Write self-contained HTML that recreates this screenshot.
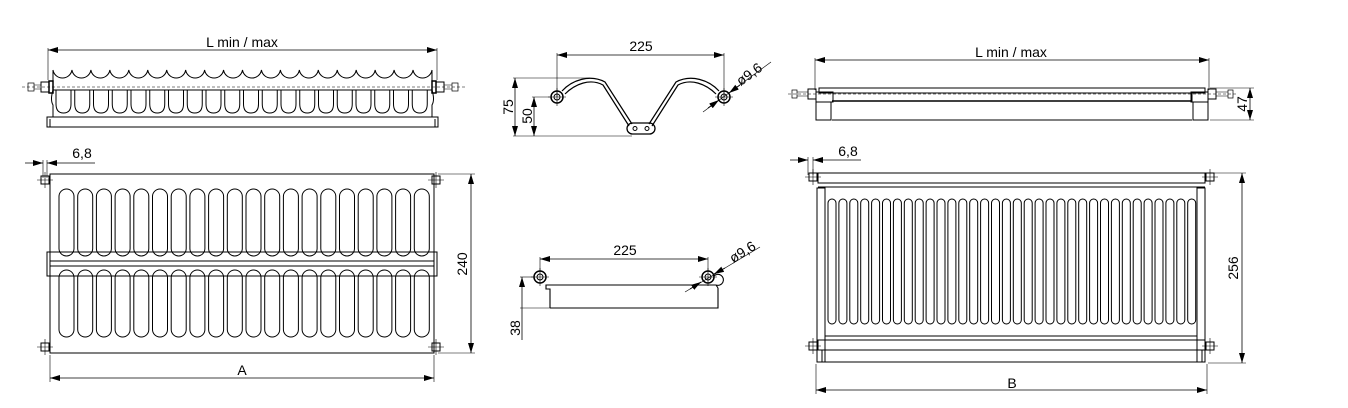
<!DOCTYPE html>
<html><head><meta charset="utf-8"><style>
html,body{margin:0;padding:0;background:#fff;}
svg{display:block}
text{font-family:"Liberation Sans",sans-serif;font-size:14px;fill:#000}
</style></head><body>
<svg id="s" width="1348" height="408" viewBox="0 0 1348 408" xmlns="http://www.w3.org/2000/svg">
<defs>
<marker id="a" viewBox="0 0 10 6" refX="10" refY="3" markerWidth="10" markerHeight="6" orient="auto-start-reverse" markerUnits="userSpaceOnUse"><path d="M0,0L10,3L0,6z" fill="#000"/></marker>
</defs>
<g id="g" fill="none" stroke="#000" stroke-width="1">
<!-- LEFT TOP -->
<line x1="48" y1="50" x2="437" y2="50" marker-start="url(#a)" marker-end="url(#a)" stroke-width="0.8"/>
<line x1="48" y1="48" x2="48" y2="80" stroke-width="0.6"/>
<line x1="437" y1="48" x2="437" y2="80" stroke-width="0.6"/>
<line x1="53" y1="90" x2="432" y2="90"/>
<path d="M53,70 L53,90 Q50,100 53,105 L53,117 M432,70 L432,90 Q435,100 432,105 L432,117"/>
<rect x="47" y="117" width="391" height="10"/>
<line x1="50" y1="119" x2="50" y2="127"/><line x1="435" y1="119" x2="435" y2="127"/>
<line x1="22" y1="87" x2="466" y2="87" stroke-width="0.5" stroke-dasharray="3,2"/>
<!-- LEFT BOTTOM -->
<rect x="50" y="174" width="384" height="179"/>
<rect x="47" y="252" width="390" height="24"/>
<line x1="50" y1="261" x2="434" y2="261"/><line x1="50" y1="266" x2="434" y2="266"/>
<line x1="471" y1="174" x2="471" y2="353" marker-start="url(#a)" marker-end="url(#a)" stroke-width="0.8"/>
<line x1="438" y1="174" x2="475" y2="174" stroke-width="0.6"/><line x1="438" y1="353" x2="475" y2="353" stroke-width="0.6"/>
<line x1="50" y1="378" x2="434" y2="378" marker-start="url(#a)" marker-end="url(#a)" stroke-width="0.8"/>
<line x1="50" y1="355" x2="50" y2="382" stroke-width="0.6"/><line x1="434" y1="355" x2="434" y2="382" stroke-width="0.6"/>
<line x1="25" y1="163" x2="43" y2="163" marker-end="url(#a)" stroke-width="0.8"/>
<line x1="95" y1="163" x2="47" y2="163" marker-end="url(#a)" stroke-width="0.8"/>
<line x1="43" y1="160" x2="43" y2="178" stroke-width="0.6"/><line x1="47" y1="160" x2="47" y2="178" stroke-width="0.6"/>
<!-- MIDDLE TOP -->
<line x1="557" y1="55" x2="724" y2="55" marker-start="url(#a)" marker-end="url(#a)" stroke-width="0.8"/>
<line x1="557" y1="53" x2="557" y2="97" stroke-width="0.6"/><line x1="724" y1="53" x2="724" y2="97" stroke-width="0.6"/>
<path d="M562,91 C572,80 590,74 605,82 L632,124 M565,94 C575,84 590,78 603,85 L629,126" stroke-width="1.2"/>
<path d="M719,91 C709,80 691,74 676,82 L649,124 M716,94 C706,84 691,78 678,85 L652,126" stroke-width="1.2"/>
<rect x="627" y="123" width="28" height="11" rx="5.5" stroke-width="1.3"/>
<circle cx="635" cy="128.5" r="2"/><circle cx="647" cy="128.5" r="2"/>
<circle cx="557" cy="97" r="6" stroke-width="1.5"/><circle cx="557" cy="97" r="3"/>
<circle cx="724" cy="97" r="6" stroke-width="1.5"/><circle cx="724" cy="97" r="3"/>
<path d="M548,97h18M557,88v18M715,97h18M724,88v18" stroke-width="0.6"/>
<line x1="515" y1="78" x2="515" y2="136" marker-start="url(#a)" marker-end="url(#a)" stroke-width="0.8"/>
<line x1="534" y1="97" x2="534" y2="136" marker-start="url(#a)" marker-end="url(#a)" stroke-width="0.8"/>
<line x1="513" y1="78" x2="590" y2="78" stroke-width="0.6"/>
<line x1="532" y1="97" x2="550" y2="97" stroke-width="0.6"/>
<line x1="513" y1="136" x2="632" y2="136" stroke-width="0.6"/>
<line x1="703" y1="112" x2="771" y2="62" stroke-width="0.6"/>
<line x1="708" y1="108" x2="719" y2="100" marker-end="url(#a)" stroke-width="0.8"/>
<line x1="740" y1="85" x2="729" y2="93" marker-end="url(#a)" stroke-width="0.8"/>
<!-- MIDDLE BOTTOM -->
<line x1="540" y1="259" x2="708" y2="259" marker-start="url(#a)" marker-end="url(#a)" stroke-width="0.8"/>
<line x1="540" y1="257" x2="540" y2="277" stroke-width="0.6"/><line x1="708" y1="257" x2="708" y2="277" stroke-width="0.6"/>
<path d="M550,308 L550,289 L546,289 L546,285 L716,285" stroke-width="1.1"/>
<path d="M718,288 L718,308 L550,308" stroke-width="1.1"/>
<path d="M716,285 A5.5,5.5 0 1 0 714,276" stroke-width="1.1"/>
<path d="M716,285 L718,288" stroke-width="1.1"/>
<circle cx="540" cy="277" r="6" stroke-width="1.5" fill="#fff"/><circle cx="540" cy="277" r="3"/>
<circle cx="708" cy="277" r="6" stroke-width="1.5" fill="#fff"/><circle cx="708" cy="277" r="3"/>
<path d="M531,277h18M540,268v18M699,277h18M708,268v18" stroke-width="0.6"/>
<line x1="522" y1="277" x2="522" y2="308" marker-start="url(#a)" stroke-width="0.8"/>
<line x1="522" y1="308" x2="522" y2="340" stroke-width="0.8"/>
<line x1="520" y1="277" x2="534" y2="277" stroke-width="0.6"/>
<line x1="520" y1="308" x2="550" y2="308" stroke-width="0.6"/>
<line x1="685" y1="292" x2="760" y2="247" stroke-width="0.6"/>
<line x1="690" y1="289" x2="701" y2="282" marker-end="url(#a)" stroke-width="0.8"/>
<line x1="725" y1="268" x2="714" y2="274" marker-end="url(#a)" stroke-width="0.8"/>
<!-- RIGHT TOP -->
<line x1="815" y1="60" x2="1209" y2="60" marker-start="url(#a)" marker-end="url(#a)" stroke-width="0.8"/>
<line x1="815" y1="58" x2="815" y2="90" stroke-width="0.6"/><line x1="1209" y1="58" x2="1209" y2="90" stroke-width="0.6"/>
<rect x="819" y="88" width="386" height="5"/>
<rect x="833" y="93" width="359" height="8"/>
<line x1="832" y1="101" x2="1192" y2="101" stroke-width="1.5"/>
<line x1="832" y1="120" x2="1192" y2="120"/>
<rect x="816" y="92" width="17" height="10"/><rect x="816" y="102" width="15" height="18"/>
<rect x="1191" y="92" width="17" height="10"/><rect x="1193" y="102" width="15" height="18"/>
<line x1="788" y1="94" x2="1238" y2="94" stroke-width="0.5" stroke-dasharray="3,2"/>
<line x1="1250" y1="88" x2="1250" y2="120" marker-start="url(#a)" marker-end="url(#a)" stroke-width="0.8"/>
<line x1="1210" y1="88" x2="1254" y2="88" stroke-width="0.6"/><line x1="1210" y1="120" x2="1254" y2="120" stroke-width="0.6"/>
<!-- RIGHT BOTTOM -->
<rect x="818" y="173" width="387" height="10"/>
<line x1="818" y1="187" x2="1205" y2="187"/>
<rect x="817" y="188" width="8" height="174"/><rect x="1197" y="188" width="8" height="174"/>
<line x1="825" y1="336" x2="1197" y2="336"/>
<rect x="818" y="340" width="387" height="10"/>
<rect x="822" y="350" width="380" height="12"/>
<line x1="1242" y1="173" x2="1242" y2="363" marker-start="url(#a)" marker-end="url(#a)" stroke-width="0.8"/>
<line x1="1208" y1="173" x2="1246" y2="173" stroke-width="0.6"/><line x1="1208" y1="363" x2="1246" y2="363" stroke-width="0.6"/>
<line x1="816" y1="390" x2="1207" y2="390" marker-start="url(#a)" marker-end="url(#a)" stroke-width="0.8"/>
<line x1="816" y1="364" x2="816" y2="394" stroke-width="0.6"/><line x1="1207" y1="364" x2="1207" y2="394" stroke-width="0.6"/>
<line x1="790" y1="160" x2="808" y2="160" marker-end="url(#a)" stroke-width="0.8"/>
<line x1="861" y1="160" x2="813" y2="160" marker-end="url(#a)" stroke-width="0.8"/>
<line x1="808" y1="157" x2="808" y2="175" stroke-width="0.6"/><line x1="813" y1="157" x2="813" y2="175" stroke-width="0.6"/>
</g>
<text x="242" y="47" text-anchor="middle">L min / max</text>
<text x="82" y="158" text-anchor="middle">6,8</text>
<text x="242" y="375" text-anchor="middle">A</text>
<text transform="translate(467,264) rotate(-90)" text-anchor="middle">240</text>
<text x="641" y="51" text-anchor="middle">225</text>
<text transform="translate(513,107) rotate(-90)" text-anchor="middle">75</text>
<text transform="translate(532,116) rotate(-90)" text-anchor="middle">50</text>
<text transform="translate(752,78) rotate(-36)" text-anchor="middle">ø9,6</text>
<text x="625" y="255" text-anchor="middle">225</text>
<text transform="translate(520,328) rotate(-90)" text-anchor="middle">38</text>
<text transform="translate(745,256) rotate(-32)" text-anchor="middle">ø9,6</text>
<text x="1011" y="57" text-anchor="middle">L min / max</text>
<text transform="translate(1247,104) rotate(-90)" text-anchor="middle">47</text>
<text x="848" y="156" text-anchor="middle">6,8</text>
<text transform="translate(1238,268) rotate(-90)" text-anchor="middle">256</text>
<text x="1012" y="388" text-anchor="middle">B</text>
</svg>
<script>
var g=document.getElementById('g'),ns='http://www.w3.org/2000/svg';
function p(d,w){var e=document.createElementNS(ns,'path');e.setAttribute('d',d);if(w)e.setAttribute('stroke-width',w);g.appendChild(e);}
function r(x,y,w,h,rx,sw){var e=document.createElementNS(ns,'rect');e.setAttribute('x',x);e.setAttribute('y',y);e.setAttribute('width',w);e.setAttribute('height',h);e.setAttribute('rx',rx);if(sw)e.setAttribute('stroke-width',sw);g.appendChild(e);}
var d='M53,70';for(var i=0;i<20;i++){var x1=53+(i+1)*18.95;d+=' A9.6,9.6 0 0 0 '+x1.toFixed(2)+',70';}p(d);
for(i=0;i<20;i++){var x=56+i*18.75;p('M'+x+',90 L'+x+',104 Q'+x+',113 '+(x+7.5)+',113 Q'+(x+15)+',113 '+(x+15)+',104 L'+(x+15)+',90');}
for(i=0;i<20;i++){var x=59+i*18.7;r(x,189,15,67,7.5);r(x,270,15,67,7.5);}
for(i=0;i<34;i++){var x=828+i*10.9;r(x,199,8,125,4);}
function bolt(cx,cy){r(cx-4,cy-4,8,8,0,1);p('M'+(cx-8)+','+cy+'h16M'+cx+','+(cy-8)+'v16',0.6);}
[[45,180],[436,180],[45,347],[436,347],[813,177],[1210,177],[813,346],[1210,346]].forEach(function(b){bolt(b[0],b[1]);});
r(41,82,8,10,0);r(436,82,8,10,0);r(49,81,4,12,0,1.5);r(432,81,4,12,0,1.5);
r(28,83,6,8,0,0.7);r(452,83,6,8,0,0.7);p('M34,85h7M34,89h7M444,85h8M444,89h8',0.6);
r(808,89,8,10,0);r(1208,89,8,10,0);r(792,90,5,8,0,0.7);r(1228,90,5,8,0,0.7);
p('M797,92h11M797,96h11M1216,92h12M1216,96h12',0.6);
</script>
</body></html>
